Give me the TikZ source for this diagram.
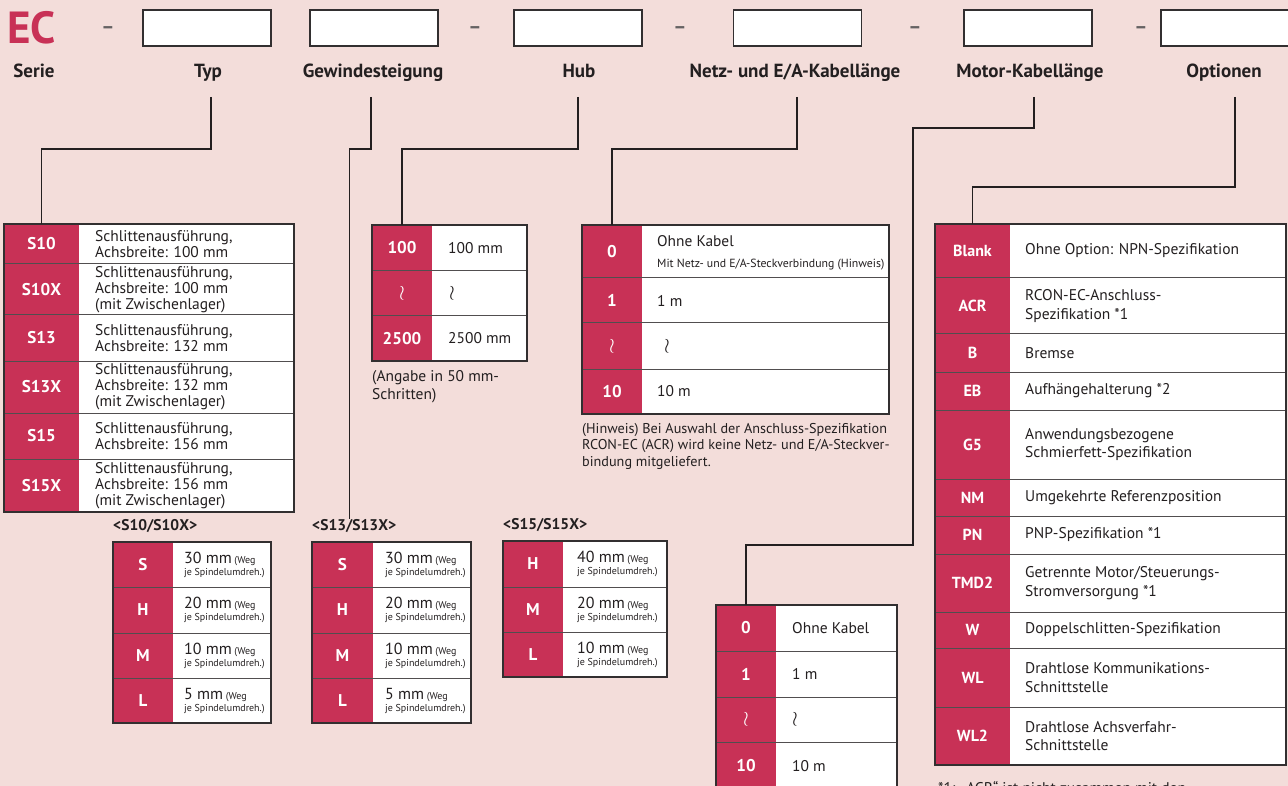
\documentclass[tikz,border=0pt]{standalone}
\usepackage{fontspec}
\setmainfont{PT Sans}
\definecolor{bgpink}{RGB}{243,221,218}
\definecolor{crim}{RGB}{200,49,86}
\definecolor{ink}{RGB}{35,31,32}
\definecolor{frame}{RGB}{50,47,48}
\newcommand\wavy{{\fontsize{20}{20}\selectfont$\wr$}}
\tikzset{
 hbox/.style={draw=frame, fill=white, line width=1.2pt, minimum width=128pt, minimum height=36pt, inner sep=0pt},
 hlabel/.style={font=\bfseries\fontsize{19}{21}\selectfont, text=ink, anchor=base, inner sep=0pt},
 dashmark/.style={font=\bfseries\fontsize{20}{20}\selectfont, text=ink!70, inner sep=0pt},
 conn/.style={draw=ink, line width=1.2pt},
 code/.style={font=\bfseries\fontsize{17}{18}\selectfont, text=white, inner sep=0pt},
 desc/.style={font=\fontsize{15.5}{16}\selectfont, text=ink, align=left, anchor=west, inner sep=0pt},
 tframe/.style={draw=frame, line width=1.3pt},
 rowline/.style={draw=frame!85, line width=1pt},
 sublabel/.style={font=\bfseries\fontsize{15.5}{17}\selectfont, text=ink, anchor=west, inner sep=0pt},
 note/.style={font=\fontsize{15.5}{18}\selectfont, text=ink, align=left, anchor=north west, inner sep=0pt},
}
% #1 name, #2 xl, #3 xm, #4 xr, #5 ytop, #6 ybot, #7 xtext, #8 code, #9 text
\newcommand\trow[9]{%
 \fill[crim] (#2,#5) rectangle (#3,#6);
 \fill[white] (#3,#5) rectangle (#4,#6);
 \coordinate (#1t) at ({(#2+#3)/2},#5);
 \node[code] (#1c) at ({(#2+#3)/2},{(#5+#6)/2}) {#8};
 \node[desc] (#1d) at (#7,{(#5+#6)/2}) {#9};
 \draw[rowline] (#2,#5) -- (#4,#5);
 \draw[rowline] (#2,#6) -- (#4,#6);
}
\newcommand\srow[9]{%
 \trow{#1}{#2}{#3}{#4}{#5}{#6}{#7}{#8}{}%
 \node[desc, anchor=base west] (#1v) at (#7,#5+21) {{\fontsize{16}{16}\selectfont #9}\,{\fontsize{10}{10}\selectfont (Weg}};
 \node[desc, anchor=base west, font=\fontsize{10}{10}\selectfont] (#1w) at (#7,#5+33.5) {je Spindelumdreh.)};
}
\begin{document}
\begin{tikzpicture}[x=1pt,y=-1pt]
\useasboundingbox (0,0) rectangle (1288,786);
\clip (0,0) rectangle (1288,786);
\fill[bgpink] (0,0) rectangle (1288,786);

% ---------- header ----------
\node[font=\bfseries\fontsize{45}{45}\selectfont, text=crim, anchor=base west, inner sep=0pt] (ec) at (7,44) {EC};
\node[dashmark] (d1) at (108,30) {–};
\node[hbox] (typbox) at (207,28) {};
\node[hbox] (gewbox) at (374,28) {};
\node[dashmark] (d2) at (475,30) {–};
\node[hbox] (hubbox) at (578,28) {};
\node[dashmark] (d3) at (680,30) {–};
\node[hbox] (netzbox) at (797.5,28) {};
\node[dashmark] (d4) at (915,30) {–};
\node[hbox] (motbox) at (1028,28) {};
\node[dashmark] (d5) at (1141,30) {–};
\node[hbox] (optbox) at (1225,28) {};

\node[hlabel] (lserie) at (34,78) {Serie};
\node[hlabel] (ltyp) at (208,78) {Typ};
\node[hlabel] (lgew) at (373,78) {Gewindesteigung};
\node[hlabel] (lhub) at (579,78) {Hub};
\node[hlabel] (lnetz) at (795,78) {Netz- und E/A-Kabellänge};
\node[hlabel] (lmot) at (1030,78) {Motor-Kabellänge};
\node[hlabel] (lopt) at (1224,78) {Optionen};

\coordinate (typs) at (211,97);
\coordinate (gews) at (371,97);
\coordinate (hubs) at (578,97);
\coordinate (netzs) at (797,97);
\coordinate (mots) at (1034,97);
\coordinate (opts) at (1235,97);

% ---------- Typ table ----------
\trow{s10}{4}{79}{294}{224}{264}{95}{S10}{Schlittenausführung,\\Achsbreite: 100 mm}
\trow{s10x}{4}{79}{294}{264}{315}{95}{S10X}{Schlittenausführung,\\Achsbreite: 100 mm\\(mit Zwischenlager)}
\trow{s13}{4}{79}{294}{315}{361}{95}{S13}{Schlittenausführung,\\Achsbreite: 132 mm}
\trow{s13x}{4}{79}{294}{361}{413}{95}{S13X}{Schlittenausführung,\\Achsbreite: 132 mm\\(mit Zwischenlager)}
\trow{s15}{4}{79}{294}{413}{459}{95}{S15}{Schlittenausführung,\\Achsbreite: 156 mm}
\trow{s15x}{4}{79}{294}{459}{512}{95}{S15X}{Schlittenausführung,\\Achsbreite: 156 mm\\(mit Zwischenlager)}
\draw[tframe] (4,224) rectangle (294,512);

% ---------- lead tables ----------
\node[sublabel] (l10) at (113,526) {<S10/S10X>};
\srow{a1}{113}{173}{271}{542}{587}{184}{S}{30 mm}
\srow{a2}{113}{173}{271}{587}{633}{184}{H}{20 mm}
\srow{a3}{113}{173}{271}{633}{678}{184}{M}{10 mm}
\srow{a4}{113}{173}{271}{678}{723}{184}{L}{5 mm}
\draw[tframe] (113,542) rectangle (271,723);

\node[sublabel] (l13) at (312,526) {<S13/S13X>};
\srow{b1}{312}{373}{471}{542}{587}{385}{S}{30 mm}
\srow{b2}{312}{373}{471}{587}{633}{385}{H}{20 mm}
\srow{b3}{312}{373}{471}{633}{678}{385}{M}{10 mm}
\srow{b4}{312}{373}{471}{678}{723}{385}{L}{5 mm}
\draw[tframe] (312,542) rectangle (471,723);

\node[sublabel] (l15) at (503,525) {<S15/S15X>};
\srow{c1}{503}{563}{667}{541}{587}{577}{H}{40 mm}
\srow{c2}{503}{563}{667}{587}{632}{577}{M}{20 mm}
\srow{c3}{503}{563}{667}{632}{677}{577}{L}{10 mm}
\draw[tframe] (503,541) rectangle (667,677);

% ---------- Hub table ----------
\trow{h1}{372}{432}{527}{225}{271}{448}{100}{100 mm}
\trow{h2}{372}{432}{527}{271}{316}{449}{\wavy}{\wavy}
\trow{h3}{372}{432}{527}{316}{361}{448}{2500}{2500 mm}
\draw[tframe] (372,225) rectangle (527,361);
\node[note] (hubnote) at (372,370) {(Angabe in 50 mm-\\Schritten)};

% ---------- Netz table ----------
\trow{n0}{582}{642}{889}{225}{278}{657}{0}{}
\node[desc, anchor=base west, font=\fontsize{15.4}{16}\selectfont] (n0a) at (657,247) {Ohne Kabel};
\node[desc, anchor=base west, font=\fontsize{11.8}{12}\selectfont] (n0b) at (657,268) {Mit Netz- und E/A-Steckverbindung (Hinweis)};
\trow{n1}{582}{642}{889}{278}{323}{657}{1}{1 m}
\trow{n2}{582}{642}{889}{323}{369}{664}{\wavy}{\wavy}
\trow{n3}{582}{642}{889}{369}{414}{657}{10}{10 m}
\draw[tframe] (582,225) rectangle (889,414);
\node[note, font=\fontsize{14.2}{16.5}\selectfont] (netznote) at (582,423) {(Hinweis) Bei Auswahl der Anschluss-Spezifikation\\RCON-EC (ACR) wird keine Netz- und E/A-Steckver-\\bindung mitgeliefert.};

% ---------- Motor table ----------
\trow{m0}{716}{776}{897}{605}{651}{792}{0}{Ohne Kabel}
\trow{m1}{716}{776}{897}{651}{697}{792}{1}{1 m}
\trow{m2}{716}{776}{897}{697}{742}{792}{\wavy}{\wavy}
\trow{m3}{716}{776}{897}{742}{790}{792}{10}{10 m}
\draw[tframe] (716,605) rectangle (897,790);

% ---------- Options table ----------
\tikzset{code/.append style={font=\bfseries\fontsize{16}{17}\selectfont}}
\tikzset{desc/.append style={font=\fontsize{15.5}{18.5}\selectfont}}
\trow{o1}{935}{1010}{1286}{224}{278}{1025}{Blank}{Ohne Option: NPN-Spezifikation}
\trow{o2}{935}{1010}{1286}{278}{334}{1025}{ACR}{RCON-EC-Anschluss-\\Spezifikation *1}
\trow{o3}{935}{1010}{1286}{334}{372}{1025}{B}{Bremse}
\trow{o4}{935}{1010}{1286}{372}{410}{1025}{EB}{Aufhängehalterung *2}
\trow{o5}{935}{1010}{1286}{410}{479}{1025}{G5}{Anwendungsbezogene\\Schmierfett-Spezifikation}
\trow{o6}{935}{1010}{1286}{479}{516}{1025}{NM}{Umgekehrte Referenzposition}
\trow{o7}{935}{1010}{1286}{516}{554}{1025}{PN}{PNP-Spezifikation *1}
\trow{o8}{935}{1010}{1286}{554}{612}{1025}{TMD2}{Getrennte Motor/Steuerungs-\\Stromversorgung *1}
\trow{o9}{935}{1010}{1286}{612}{648}{1025}{W}{Doppelschlitten-Spezifikation}
\trow{o10}{935}{1010}{1286}{648}{707}{1025}{WL}{Drahtlose Kommunikations-\\Schnittstelle}
\trow{o11}{935}{1010}{1286}{707}{765}{1025}{WL2}{Drahtlose Achsverfahr-\\Schnittstelle}
\draw[tframe] (935,224) rectangle (1286,765);
\node[desc, anchor=base west, font=\fontsize{15.5}{16}\selectfont] (fn1) at (938,793) {*1: „ACR“ ist nicht zusammen mit den};

% ---------- connectors ----------
\draw[conn] (typs) -- (typs |- 0,149) -| (s10t);
\draw[conn] (gews) -- (gews |- 0,149) -| ([xshift=-5pt]l13.north);
\draw[conn] (hubs) -- (hubs |- 0,149) -| (h1t);
\draw[conn] (netzs) -- (netzs |- 0,149) -| (n0t);
\draw[conn] (mots) -- (mots |- 0,128) -| (913,545) -| (m0t);
\draw[conn] (opts) -- (opts |- 0,187) -| (o1t);
\end{tikzpicture}
\end{document}
